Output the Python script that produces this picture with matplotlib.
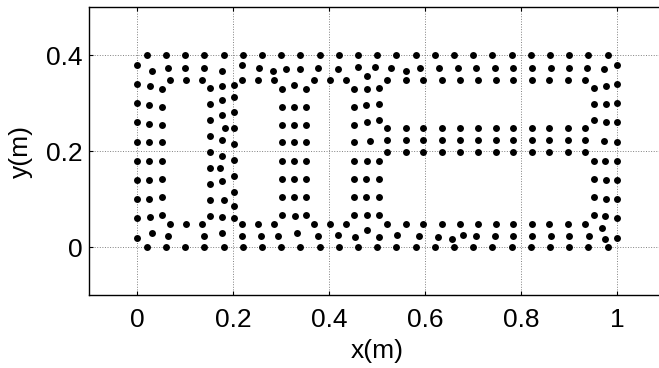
import matplotlib
matplotlib.use("Agg")
import matplotlib.pyplot as plt
import numpy as np

plt.rcParams["font.family"] = ["Liberation Sans", "DejaVu Sans"]

# Nodes along the outer rectangle
EDGE_X = [0.02, 0.06, 0.10, 0.14, 0.18, 0.22, 0.26, 0.30, 0.34, 0.38, 0.42, 0.46, 0.50,
          0.54, 0.58, 0.62, 0.66, 0.70, 0.74, 0.78, 0.82, 0.86, 0.90, 0.94, 0.98]
EDGE_Y = [0.02, 0.06, 0.10, 0.14, 0.18, 0.22, 0.26, 0.30, 0.34, 0.38]
TOP_Y = 0.4
BOTTOM_Y = 0.0
LEFT_X = 0.0
RIGHT_X = 1.0

# Interior nodes
INNER_X = [
    0.031, 0.063, 0.099, 0.138, 0.177, 0.218, 0.068, 0.102, 0.135, 0.218,
    0.027, 0.052, 0.152, 0.177, 0.202, 0.025, 0.052, 0.152, 0.177, 0.202,
    0.025, 0.052, 0.152, 0.177, 0.202, 0.183, 0.202, 0.025, 0.052, 0.152, 0.177, 0.202,
    0.254, 0.282, 0.310, 0.340, 0.377, 0.418, 0.459, 0.252, 0.285, 0.368, 0.401, 0.435,
    0.302, 0.327, 0.352, 0.452, 0.302, 0.327, 0.352, 0.452,
    0.302, 0.327, 0.352, 0.452, 0.302, 0.327, 0.352, 0.452,
    0.495, 0.529, 0.559, 0.590, 0.629, 0.668, 0.706,
    0.479, 0.520, 0.559, 0.595, 0.634, 0.672, 0.709,
    0.479, 0.504, 0.476, 0.504, 0.479, 0.504,
    0.520, 0.559, 0.595, 0.634, 0.672, 0.709,
    0.484, 0.520, 0.559, 0.595, 0.634, 0.672, 0.709,
    0.745, 0.783, 0.822, 0.861, 0.899, 0.936, 0.972,
    0.747, 0.783, 0.822, 0.858, 0.897, 0.933,
    0.952, 0.976, 0.952, 0.976, 0.952, 0.976,
    0.747, 0.783, 0.822, 0.858, 0.897, 0.933,
    0.747, 0.783, 0.822, 0.858, 0.897, 0.933, 0.972,
    0.025, 0.052, 0.025, 0.052, 0.025, 0.052, 0.027, 0.052,
    0.152, 0.177, 0.202, 0.152, 0.172, 0.202, 0.152, 0.177, 0.202,
    0.152, 0.180, 0.202, 0.152, 0.177, 0.202,
    0.219, 0.068, 0.102, 0.135, 0.031, 0.063, 0.138, 0.177, 0.219,
    0.302, 0.327, 0.352, 0.452, 0.302, 0.327, 0.352, 0.452,
    0.302, 0.327, 0.352, 0.452, 0.302, 0.329, 0.352, 0.452,
    0.252, 0.285, 0.368, 0.401, 0.435, 0.257, 0.293, 0.332, 0.377, 0.418, 0.454,
    0.520, 0.559, 0.595, 0.634, 0.672, 0.709,
    0.479, 0.504, 0.476, 0.504, 0.476, 0.504, 0.479, 0.504,
    0.520, 0.559, 0.595, 0.634, 0.672, 0.709,
    0.479, 0.504, 0.542, 0.587, 0.626, 0.656, 0.679, 0.706,
    0.747, 0.783, 0.822, 0.858, 0.897, 0.933,
    0.952, 0.975, 0.952, 0.976, 0.952, 0.976, 0.952, 0.975,
    0.747, 0.783, 0.822, 0.858, 0.897, 0.933, 0.969,
    0.745, 0.783, 0.822, 0.861, 0.899, 0.941, 0.975,
]
INNER_Y = [
    0.368, 0.374, 0.374, 0.374, 0.368, 0.379, 0.349, 0.349, 0.349, 0.349,
    0.335, 0.329, 0.332, 0.335, 0.338, 0.296, 0.293, 0.299, 0.307, 0.313,
    0.257, 0.254, 0.265, 0.276, 0.282, 0.249, 0.248, 0.219, 0.219, 0.232, 0.224, 0.215,
    0.374, 0.368, 0.371, 0.371, 0.374, 0.371, 0.376, 0.349, 0.349, 0.349, 0.349, 0.349,
    0.329, 0.338, 0.329, 0.329, 0.293, 0.293, 0.293, 0.293,
    0.254, 0.254, 0.254, 0.254, 0.219, 0.219, 0.219, 0.219,
    0.376, 0.374, 0.368, 0.374, 0.374, 0.374, 0.374,
    0.357, 0.349, 0.349, 0.349, 0.349, 0.349, 0.349,
    0.329, 0.332, 0.296, 0.299, 0.260, 0.265,
    0.249, 0.249, 0.249, 0.249, 0.249, 0.249,
    0.221, 0.224, 0.224, 0.224, 0.224, 0.224, 0.224,
    0.374, 0.374, 0.374, 0.374, 0.374, 0.374, 0.371,
    0.349, 0.349, 0.349, 0.349, 0.349, 0.349,
    0.332, 0.335, 0.299, 0.299, 0.265, 0.262,
    0.249, 0.249, 0.249, 0.249, 0.249, 0.249,
    0.224, 0.224, 0.224, 0.224, 0.224, 0.224, 0.221,
    0.179, 0.179, 0.140, 0.143, 0.101, 0.104, 0.063, 0.068,
    0.199, 0.190, 0.182, 0.165, 0.165, 0.149, 0.132, 0.138, 0.115,
    0.099, 0.099, 0.085, 0.065, 0.063, 0.060,
    0.049, 0.049, 0.049, 0.049, 0.029, 0.024, 0.024, 0.029, 0.024,
    0.179, 0.179, 0.179, 0.179, 0.143, 0.143, 0.143, 0.143,
    0.104, 0.104, 0.104, 0.104, 0.068, 0.065, 0.068, 0.068,
    0.049, 0.049, 0.049, 0.049, 0.049, 0.024, 0.024, 0.029, 0.024, 0.026, 0.021,
    0.199, 0.199, 0.199, 0.199, 0.199, 0.199,
    0.179, 0.179, 0.143, 0.143, 0.104, 0.104, 0.068, 0.068,
    0.049, 0.049, 0.049, 0.049, 0.049, 0.049,
    0.035, 0.021, 0.026, 0.024, 0.021, 0.018, 0.026, 0.024,
    0.199, 0.199, 0.199, 0.199, 0.199, 0.199,
    0.179, 0.179, 0.143, 0.140, 0.104, 0.101, 0.068, 0.065,
    0.049, 0.049, 0.049, 0.049, 0.049, 0.049, 0.040,
    0.024, 0.024, 0.024, 0.024, 0.024, 0.024, 0.018,
]

X_TICKS = [0, 0.2, 0.4, 0.6, 0.8, 1]
X_TICK_LABELS = ["0", "0.2", "0.4", "0.6", "0.8", "1"]
Y_TICKS = [0, 0.2, 0.4]
Y_TICK_LABELS = ["0", "0.2", "0.4"]

n_edge, n_side = len(EDGE_X), len(EDGE_Y)
xs = np.concatenate([EDGE_X, EDGE_X, [LEFT_X] * n_side, [RIGHT_X] * n_side, INNER_X])
ys = np.concatenate([[TOP_Y] * n_edge, [BOTTOM_Y] * n_edge, EDGE_Y, EDGE_Y, INNER_Y])

fig = plt.figure(figsize=(6.59, 3.68), dpi=100)
# axes run slightly past the right edge of the canvas, so the right frame is clipped
ax = fig.add_axes([0.1355, 0.1976, 0.874, 0.7826])

ax.plot(xs, ys, "o", color="black", markersize=5, markeredgewidth=0)

ax.set_xlim(-0.1, 1.1)
ax.set_ylim(-0.1, 0.5)
ax.set_xticks(X_TICKS, X_TICK_LABELS)
ax.set_yticks(Y_TICKS, Y_TICK_LABELS)
ax.tick_params(direction="in", length=3, width=0.8, labelsize=19,
               top=True, right=True)
ax.tick_params(axis="x", pad=9)
ax.tick_params(axis="y", pad=5)
ax.grid(True, linestyle=":", linewidth=0.7, color="#808080")
ax.set_axisbelow(True)
for spine in ax.spines.values():
    spine.set_linewidth(1.0)

ax.set_xlabel("x(m)", fontsize=19, labelpad=5)
ax.set_ylabel("y(m)", fontsize=19, labelpad=9)

fig.savefig("out.png", dpi=100)
